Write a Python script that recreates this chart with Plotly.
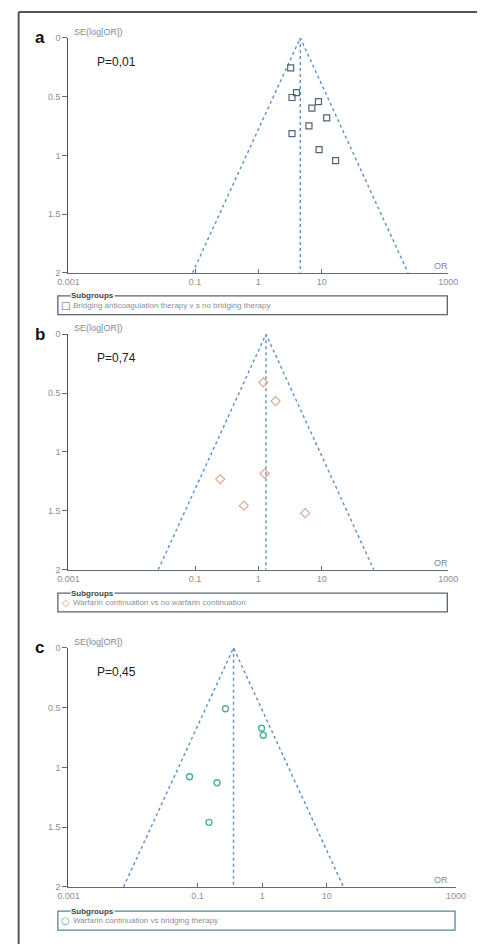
import numpy as np
import plotly.graph_objects as go

W, H = 487, 949

# ---------------- data ----------------
panel_letters = ["a", "b", "c"]
p_values = ["P=0,01", "P=0,74", "P=0,45"]
subgroup_labels = [
    "Bridging anticoagulation therapy v s no bridging therapy",
    "Warfarin continuation vs no warfarin continuation",
    "Warfarin continuation vs bridging therapy",
]
pooled_or = [4.6, 1.32, 0.36]

a_or = [3.24, 4.0, 3.4, 8.9, 7.0, 12.0, 6.3, 3.4, 9.1, 16.6]
a_se = [0.255, 0.465, 0.507, 0.543, 0.597, 0.68, 0.748, 0.815, 0.95, 1.045]

b_or = [1.20, 1.87, 1.25, 0.25, 0.59, 5.5]
b_se = [0.41, 0.568, 1.185, 1.23, 1.456, 1.52]

c_or = [0.27, 0.98, 1.04, 0.075, 0.20, 0.15]
c_se = [0.51, 0.673, 0.731, 1.079, 1.128, 1.46]

x_tickvals = [0.001, 0.1, 1, 10, 1000]
x_ticktext = ["0.001", "0.1", "1", "10", "1000"]
y_tickvals = [0, 0.5, 1, 1.5, 2]
y_ticktext = ["0", "0.5", "1", "1.5", "2"]
se_max = 2.0

# ---------------- layout geometry (pixels) ----------------
panels = [
    dict(x0=60, x1=457, ytop=33.3, ybot=270.7, box=(49, 456, 294, 313),
         sym="□", symcol="#4f6577", boxcol="#5a6670",
         marker=dict(symbol="square-open", size=6, color="#4f6577", line=dict(width=1.2))),
    dict(x0=60, x1=457, ytop=332.7, ybot=570.7, box=(49, 456, 594.3, 613.3),
         sym="◇", symcol="#d4a890", boxcol="#5a6670",
         marker=dict(symbol="diamond-open", size=7, color="#d8ac94", line=dict(width=1.2))),
    dict(x0=60, x1=465, ytop=649.7, ybot=891.3, box=(49, 464, 915.7, 935),
         sym="○", symcol="#4db09a", boxcol="#4f8aa0",
         marker=dict(symbol="circle-open", size=6, color="#4db09a", line=dict(width=1.4))),
]
series = [(a_or, a_se), (b_or, b_se), (c_or, c_se)]

def px(x):
    return x / W

def py(y):
    return 1 - y / H

fig = go.Figure()
font_family = "Liberation Sans, Arial, sans-serif"
annotations = []
shapes = []
line_col = "#5b8fc8"
axis_col = "#5f6d78"

for i, (pn, (ors, ses)) in enumerate(zip(panels, series)):
    k = "" if i == 0 else str(i + 1)
    xa, ya = "x" + k, "y" + k
    c = pooled_or[i]
    # funnel (pseudo 95% CI) lines
    lo = c * np.exp(-1.96 * se_max)
    hi = c * np.exp(1.96 * se_max)
    fig.add_trace(go.Scatter(x=[lo, c, hi], y=[se_max, 0, se_max], mode="lines",
                             line=dict(color=line_col, width=1.4, dash="dot"),
                             xaxis=xa, yaxis=ya, showlegend=False, hoverinfo="skip"))
    fig.add_trace(go.Scatter(x=[c, c], y=[0, se_max], mode="lines",
                             line=dict(color=line_col, width=1.4, dash="dot"),
                             xaxis=xa, yaxis=ya, showlegend=False, hoverinfo="skip"))
    fig.add_trace(go.Scatter(x=ors, y=ses, mode="markers", marker=pn["marker"],
                             xaxis=xa, yaxis=ya, showlegend=False))

    fig.update_layout(**{
        "xaxis" + k: dict(type="log", range=[-3, 3], domain=[px(pn["x0"]), px(pn["x1"])],
                          anchor=ya, tickvals=x_tickvals, ticktext=x_ticktext,
                          showline=True, linecolor=axis_col, linewidth=1.3,
                          ticks="inside", ticklen=4, tickcolor=axis_col,
                          showgrid=False, zeroline=False,
                          tickfont=dict(size=9, color="#8a9096", family=font_family)),
        "yaxis" + k: dict(range=[se_max, 0], domain=[py(pn["ybot"]), py(pn["ytop"])],
                          anchor=xa, tickvals=y_tickvals, ticktext=y_ticktext,
                          showline=True, linecolor="#4a525a", linewidth=1.3,
                          ticks="outside", ticklen=5, tickcolor=axis_col,
                          showgrid=False, zeroline=False,
                          tickfont=dict(size=9, color="#8a9096", family=font_family)),
    })

    # axis titles
    annotations.append(dict(x=px(64), y=py(pn["ytop"] - 6), xref="paper", yref="paper",
                            text="SE(log[OR])", showarrow=False, xanchor="left", yanchor="middle",
                            font=dict(size=9, color="#7f8a94", family=font_family)))
    annotations.append(dict(x=px(449), y=py(pn["ybot"] - 7), xref="paper", yref="paper",
                            text="OR", showarrow=False, xanchor="center", yanchor="middle",
                            font=dict(size=9, color="#7f8a94", family=font_family)))
    # panel letter and P value
    annotations.append(dict(x=px(30), y=py(pn["ytop"] + 0), xref="paper", yref="paper",
                            text="<b>" + panel_letters[i] + "</b>", showarrow=False,
                            xanchor="center", yanchor="middle",
                            font=dict(size=17, color="#111111", family=font_family)))
    annotations.append(dict(x=px(88), y=py(pn["ytop"] + 24), xref="paper", yref="paper",
                            text=p_values[i], showarrow=False, xanchor="left", yanchor="middle",
                            font=dict(size=12, color="#222222", family=font_family)))
    # legend box
    bx0, bx1, by0, by1 = pn["box"]
    shapes.append(dict(type="rect", xref="paper", yref="paper",
                       x0=px(bx0), x1=px(bx1), y0=py(by1), y1=py(by0),
                       line=dict(color=pn["boxcol"], width=1.3), fillcolor="rgba(0,0,0,0)"))
    annotations.append(dict(x=px(62), y=py(by0), xref="paper", yref="paper",
                            text="<b>Subgroups</b>", showarrow=False, xanchor="left",
                            yanchor="middle", bgcolor="white", borderpad=0,
                            font=dict(size=8, color="#444444", family=font_family)))
    ymid = (by0 + by1) / 2
    annotations.append(dict(x=px(57), y=py(ymid), xref="paper", yref="paper",
                            text=pn["sym"], showarrow=False, xanchor="center", yanchor="middle",
                            font=dict(size=10, color=pn["symcol"], family="DejaVu Sans")))
    annotations.append(dict(x=px(63), y=py(ymid), xref="paper", yref="paper",
                            text=subgroup_labels[i], showarrow=False, xanchor="left",
                            yanchor="middle",
                            font=dict(size=8, color="#8a9096", family=font_family)))

# outer frame (left and top edges)
shapes.append(dict(type="line", xref="paper", yref="paper", x0=px(8), x1=px(8),
                   y0=0, y1=py(7), line=dict(color="#555555", width=2)))
shapes.append(dict(type="line", xref="paper", yref="paper", x0=px(8), x1=1,
                   y0=py(7), y1=py(7), line=dict(color="#555555", width=2)))

fig.update_layout(width=W, height=H, margin=dict(l=0, r=0, t=0, b=0),
                  paper_bgcolor="white", plot_bgcolor="white",
                  annotations=annotations, shapes=shapes, showlegend=False,
                  font=dict(family=font_family))

fig.write_html("out.html")
